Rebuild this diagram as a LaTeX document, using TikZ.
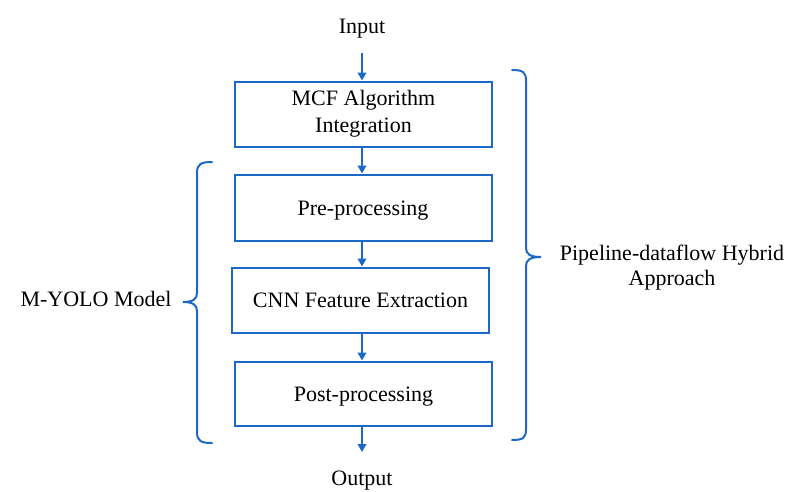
\documentclass[tikz,border=0pt]{standalone}
\usepackage{fontspec}
\setmainfont{Liberation Serif}
\usetikzlibrary{arrows.meta}
\definecolor{flowblue}{RGB}{28,104,198}

\begin{document}
\begin{tikzpicture}[x=1pt,y=-1pt,
  stagebox/.style={draw=flowblue, line width=2pt, inner sep=0pt,
    minimum width=257pt, minimum height=65pt, align=center,
    font=\fontsize{22}{27}\selectfont},
  oneline/.style={text height=15pt, text depth=0pt},
  lbl/.style={inner sep=0pt, align=center, anchor=base, font=\fontsize{22}{25}\selectfont},
  flow/.style={draw=flowblue, line width=2pt, -{Triangle[length=8pt,width=8.5pt]}},
  bracket/.style={draw=flowblue, line width=2pt, line cap=round}]
\useasboundingbox (0,0) rectangle (791,491);

% processing stages
\node[stagebox] (mcf)  at (363.5,114)   {MCF Algorithm\\Integration};
\node[stagebox, oneline, minimum height=66pt] (pre) at (363,207.5) {Pre-processing};
\node[stagebox, oneline] (cnn)  at (360.5,300)   {CNN Feature Extraction};
\node[stagebox, oneline, minimum height=64pt] (post) at (363.5,393.5) {Post-processing};

% input / output labels
\node[lbl] (input)  at (362,33)  {Input};
\node[lbl] (output) at (362,485) {Output};

% vertical data path
\coordinate (spine)  at (362,0);
\coordinate (inTop)  at (362,53);
\coordinate (outEnd) at (362,452);
\draw[flow] (inTop) -- (mcf.north -| spine);
\draw[flow] (mcf.south -| spine) -- (pre.north -| spine);
\draw[flow] (pre.south -| spine) -- (cnn.north -| spine);
\draw[flow] (cnn.south -| spine) -- (post.north -| spine);
\draw[flow] (post.south -| spine) -- (outEnd);

% left bracket: M-YOLO model
\coordinate (lTip) at (183,302);
\draw[bracket] (212,162) .. controls (201,162) and (197,164) .. (197,173)
  -- (197,293) .. controls (197,299) and (193,302) .. (lTip)
  .. controls (193,302) and (197,305) .. (197,311)
  -- (197,432) .. controls (197,441) and (201,443) .. (212,443);
\node[lbl] (myolo) at (96,306) {M-YOLO Model};

% right bracket: hybrid approach (base anchor sits on the last line)
\coordinate (rTip) at (541,257);
\draw[bracket] (512,70) .. controls (523,70) and (526,72) .. (526,81)
  -- (526,248) .. controls (526,254) and (530,257) .. (rTip)
  .. controls (530,257) and (526,260) .. (526,266)
  -- (526,429) .. controls (526,438) and (523,440) .. (512,440);
\node[lbl] (hybrid) at (672,285) {Pipeline-dataflow Hybrid\\Approach};
\end{tikzpicture}
\end{document}
